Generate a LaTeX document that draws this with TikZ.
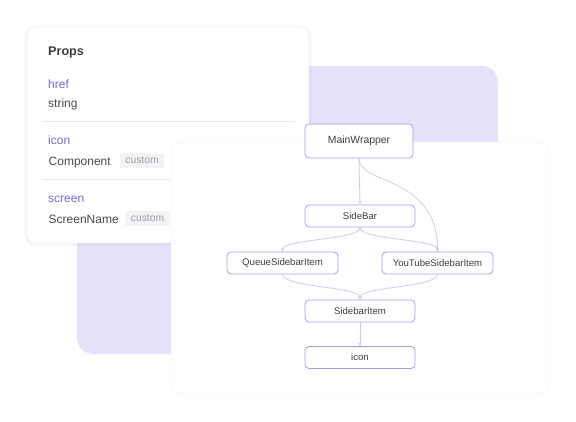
\documentclass[tikz,border=0pt]{standalone}
\usepackage{fontspec}
\setmainfont{Liberation Sans}
\usepackage{xcolor}
\usetikzlibrary{arrows.meta}

\definecolor{lilac}{HTML}{E7E2FB}
\definecolor{cardline}{HTML}{E9E8EF}
\definecolor{nodeline}{HTML}{A89BEF}
\definecolor{linkcol}{HTML}{D0C9F4}
\definecolor{propcol}{HTML}{7D68E3}
\definecolor{textcol}{HTML}{3C3C46}
\definecolor{typecol}{HTML}{4A4A52}
\definecolor{chipfill}{HTML}{F3F3F5}
\definecolor{chiptext}{HTML}{9C9CA4}

\begin{document}
\begin{tikzpicture}[x=1pt,y=-1pt,
		comp/.style={draw=nodeline, fill=white, rounded corners=4pt, line width=0.8pt,
			minimum width=110pt, minimum height=22pt, inner sep=0pt,
			text=textcol, font=\fontsize{9.6}{11}\selectfont},
		link/.style={draw=linkcol, line width=0.8pt, -{Stealth[length=3.5pt,width=3.5pt]}},
		propkey/.style={anchor=base west, inner sep=0pt, text=propcol, font=\fontsize{12}{14}\selectfont},
		proptype/.style={anchor=base west, inner sep=0pt, text=typecol, font=\fontsize{12}{14}\selectfont},
		chip/.style={fill=chipfill, rounded corners=2pt, minimum width=44pt, minimum height=15pt,
			inner sep=0pt, text=chiptext, font=\fontsize{10.3}{12}\selectfont}]
		
		\useasboundingbox (0,0) rectangle (576,421);
		
		% lilac backdrop
		\fill[lilac, rounded corners=16pt] (77,66) rectangle (498,354);
		
		% props card
		\foreach \g in {3,2,1}
		\fill[black, opacity=0.012, rounded corners=8pt+\g pt] (27-\g,27-\g+1) rectangle (309+\g,243+\g+1);
		\draw[cardline, fill=white, rounded corners=8pt] (27,27) rectangle (309,243);
		\node[anchor=base west, inner sep=0pt, text=textcol, font=\fontsize{12.6}{14}\selectfont\bfseries] (props) at (48,55) {Props};
		\node[propkey] (hrefkey) at (48,88.3) {href};
		\node[proptype] (hreftype) at (48,107.5) {string};
		\draw[cardline] (42,121) -- (295,121);
		\node[propkey] (iconkey) at (48,144) {icon};
		\node[proptype] (icontype) at (48.5,165) {Component};
		\node[chip] (iconchip) at (142,160.5) {custom};
		\draw[cardline] (42,179) -- (295,179);
		\node[propkey] (screenkey) at (48,202.7) {screen};
		\node[proptype] (screentype) at (48.5,223.3) {ScreenName};
		\node[chip] (screenchip) at (147.5,218.7) {custom};
		
		% tree card
		\draw[cardline!70, fill=white, rounded corners=8pt] (171,142) rectangle (549,394);
		
		% components
		\node[comp, minimum width=108pt, minimum height=34pt, font=\fontsize{10.4}{12}\selectfont] (main) at (359,141) {MainWrapper};
		\node[comp] (side) at (360,216) {SideBar};
		\node[comp, minimum width=111pt] (queue) at (282.5,263) {QueueSidebarItem};
		\node[comp, minimum width=111pt] (yt) at (437.5,263) {YouTubeSidebarItem};
		\node[comp] (item) at (360,311) {SidebarItem};
		\node[comp] (icon) at (360,357.5) {icon};
		
		% links
		\draw[link] (main.south) -- (side.north);
		\draw[link] (main.south) .. controls +(0,27) and +(0,-77) .. (yt.north);
		\draw[link] (side.south) .. controls +(0,13) and +(0,-13) .. (queue.north);
		\draw[link] (side.south) .. controls +(0,13) and +(0,-13) .. (yt.north);
		\draw[link] (queue.south) .. controls +(0,13) and +(0,-13) .. (item.north);
		\draw[link] (yt.south) .. controls +(0,13) and +(0,-13) .. (item.north);
		\draw[link] (item.south) -- (icon.north);
		
	\end{tikzpicture}
\end{document}
